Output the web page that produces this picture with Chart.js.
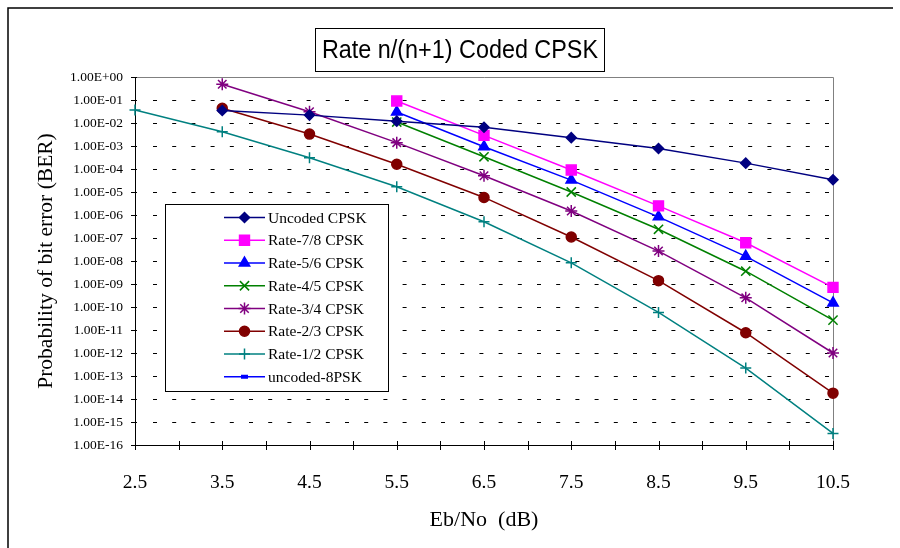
<!DOCTYPE html>
<html>
<head>
<meta charset="utf-8">
<script src="https://cdn.jsdelivr.net/npm/chart.js@4/dist/chart.umd.min.js"></script>
<style>
  html, body { margin: 0; padding: 0; background: #fff; }
  canvas { display: block; }
</style>
</head>
<body>
<canvas id="c" width="900" height="548"></canvas>
<script>
// ---- Data ----
const ebno = [2.5, 3.5, 4.5, 5.5, 6.5, 7.5, 8.5, 9.5, 10.5];
const uncodedCPSK = [null, 3.5e-2, 2.2e-2, 1.2e-2, 6.5e-3, 2.3e-3, 7.8e-4, 1.8e-4, 3.4e-5];
const rate78 = [null, null, null, 9.0e-2, 2.9e-3, 9.0e-5, 2.5e-6, 6.2e-8, 7.1e-10];
const rate56 = [null, null, null, 3.0e-2, 9.3e-4, 3.3e-5, 8.3e-7, 1.6e-8, 1.5e-10];
const rate45 = [null, null, null, 1.1e-2, 3.4e-4, 1.0e-5, 2.4e-7, 3.6e-9, 2.7e-11];
const rate34 = [null, 4.8e-1, 3.1e-2, 1.4e-3, 5.1e-5, 1.5e-6, 2.7e-8, 2.5e-10, 1.0e-12];
const rate23 = [null, 4.4e-2, 3.3e-3, 1.6e-4, 5.8e-6, 1.1e-7, 1.4e-9, 7.6e-12, 1.8e-14];
const rate12 = [3.7e-2, 4.2e-3, 3.1e-4, 1.7e-5, 5.1e-7, 8.3e-9, 5.8e-11, 2.2e-13, 3.2e-16];
const uncoded8PSK = [null, null, null, null, null, null, null, null, null];

const seriesLabels = ['Uncoded CPSK', 'Rate-7/8 CPSK', 'Rate-5/6 CPSK', 'Rate-4/5 CPSK',
                      'Rate-3/4 CPSK', 'Rate-2/3 CPSK', 'Rate-1/2 CPSK', 'uncoded-8PSK'];
const xTickLabels = [2.5, 3.5, 4.5, 5.5, 6.5, 7.5, 8.5, 9.5, 10.5];
const yExponents = [0, -1, -2, -3, -4, -5, -6, -7, -8, -9, -10, -11, -12, -13, -14, -15, -16];
const chartTitle = 'Rate n/(n+1) Coded CPSK';
const xTitle = 'Eb/No  (dB)';
const yTitle = 'Probability of bit error (BER)';

// ---- Styles ----
const styles = [
  { color: '#000080', pointStyle: 'rectRot', radius: 5 },
  { color: '#FF00FF', pointStyle: 'rect', radius: 7 },
  { color: '#0000FF', pointStyle: 'triangle', radius: 6 },
  { color: '#008000', pointStyle: 'crossRot', radius: 6.5 },
  { color: '#800080', pointStyle: 'star', radius: 6 },
  { color: '#800000', pointStyle: 'circle', radius: 5 },
  { color: '#008080', pointStyle: 'cross', radius: 5.5 },
  { color: '#0000FF', pointStyle: 'rect', radius: 3 }
];
const seriesValues = [uncodedCPSK, rate78, rate56, rate45, rate34, rate23, rate12, uncoded8PSK];

const toPoints = arr => ebno.map((x, i) => ({ x: x, y: arr[i] })).filter(p => p.y !== null);

const datasets = seriesValues.map((vals, i) => ({
  label: seriesLabels[i],
  data: toPoints(vals),
  borderColor: styles[i].color,
  backgroundColor: styles[i].color,
  pointBackgroundColor: styles[i].color,
  pointBorderColor: styles[i].color,
  pointStyle: styles[i].pointStyle,
  pointRadius: styles[i].radius,
  pointHoverRadius: styles[i].radius,
  pointBorderWidth: 1.5,
  borderWidth: 1.5,
  tension: 0,
  fill: false,
  clip: false
}));

function fmtExp(v) {
  const e = Math.round(Math.log10(v));
  const a = Math.abs(e);
  return '1.00E' + (e < 0 ? '-' : '+') + (a < 10 ? '0' + a : '' + a);
}

const decorPlugin = {
  id: 'decor',
  beforeDatasetsDraw(chart) {
    const ctx = chart.ctx;
    const ca = chart.chartArea;
    const xs = chart.scales.x, ys = chart.scales.y;
    ctx.save();
    // dashed horizontal grid lines
    ctx.strokeStyle = '#000';
    ctx.lineWidth = 1;
    ctx.setLineDash([4, 15.2]);
    ys.ticks.forEach(t => {
      const y = Math.round(ys.getPixelForValue(t.value)) + 0.5;
      if (Math.abs(y - ca.top) < 2 || Math.abs(y - ca.bottom) < 2) return;
      ctx.beginPath();
      ctx.moveTo(ca.left + 18, y);
      ctx.lineTo(ca.right, y);
      ctx.stroke();
    });
    ctx.setLineDash([]);
    // top & right border (gray)
    ctx.strokeStyle = '#808080';
    ctx.beginPath();
    ctx.moveTo(ca.left, Math.round(ca.top) + 0.5);
    ctx.lineTo(Math.round(ca.right) + 0.5, Math.round(ca.top) + 0.5);
    ctx.lineTo(Math.round(ca.right) + 0.5, ca.bottom);
    ctx.stroke();
    // axes
    ctx.strokeStyle = '#000';
    ctx.beginPath();
    ctx.moveTo(Math.round(ca.left) + 0.5, ca.top);
    ctx.lineTo(Math.round(ca.left) + 0.5, Math.round(ca.bottom) + 0.5);
    ctx.lineTo(ca.right, Math.round(ca.bottom) + 0.5);
    ctx.stroke();
    // y tick marks (crossing)
    ys.ticks.forEach(t => {
      const y = Math.round(ys.getPixelForValue(t.value)) + 0.5;
      ctx.beginPath();
      ctx.moveTo(ca.left - 4, y);
      ctx.lineTo(ca.left + 2, y);
      ctx.stroke();
    });
    // x tick marks every 0.5 (crossing)
    for (let v = xs.min; v <= xs.max + 1e-9; v += 0.5) {
      const x = Math.round(xs.getPixelForValue(v)) + 0.5;
      ctx.beginPath();
      ctx.moveTo(x, ca.bottom - 4);
      ctx.lineTo(x, ca.bottom + 5);
      ctx.stroke();
    }
    ctx.restore();
  },
  afterDraw(chart) {
    const ctx = chart.ctx;
    ctx.save();
    // outer frame (left & top)
    ctx.strokeStyle = '#000';
    ctx.lineWidth = 1.5;
    ctx.beginPath();
    ctx.moveTo(8, 548);
    ctx.lineTo(8, 8);
    ctx.lineTo(893, 8);
    ctx.stroke();

    // title box
    ctx.lineWidth = 1;
    ctx.fillStyle = '#fff';
    ctx.fillRect(315, 28, 289, 43);
    ctx.strokeStyle = '#000';
    ctx.strokeRect(315.5, 28.5, 289, 43);
    ctx.fillStyle = '#000';
    ctx.font = '25px "Liberation Sans", Arial, sans-serif';
    ctx.textAlign = 'center';
    ctx.textBaseline = 'middle';
    ctx.fillText(chartTitle, 460, 51, 276);

    // legend box
    const lx = 165, ly = 204, lw = 223, lh = 187;
    ctx.fillStyle = '#fff';
    ctx.fillRect(lx, ly, lw, lh);
    ctx.strokeStyle = '#000';
    ctx.strokeRect(lx + 0.5, ly + 0.5, lw, lh);
    ctx.font = '15.5px "Liberation Serif", "Times New Roman", serif';
    ctx.textAlign = 'left';
    ctx.textBaseline = 'middle';
    chart.data.datasets.forEach((ds, i) => {
      const y = 217.5 + i * 22.75;
      ctx.strokeStyle = ds.borderColor;
      ctx.lineWidth = 1.5;
      ctx.beginPath();
      ctx.moveTo(224, y);
      ctx.lineTo(265, y);
      ctx.stroke();
      ctx.fillStyle = ds.pointBackgroundColor;
      ctx.strokeStyle = ds.pointBorderColor;
      if (i === 7) {
        ctx.fillRect(241, y - 2, 7, 4);
      } else if (Chart.helpers && Chart.helpers.drawPoint) {
        Chart.helpers.drawPoint(ctx, {
          pointStyle: ds.pointStyle, radius: ds.pointRadius, borderWidth: 1.5, rotation: 0
        }, 244.5, y);
      }
      ctx.fillStyle = '#000';
      ctx.fillText(ds.label, 268, y + 1);
    });
    ctx.restore();
  }
};

Chart.defaults.font.family = '"Liberation Serif", "Times New Roman", serif';
Chart.defaults.color = '#000';

new Chart(document.getElementById('c'), {
  type: 'line',
  data: { datasets: datasets },
  plugins: [decorPlugin],
  options: {
    responsive: false,
    animation: false,
    events: [],
    layout: { padding: { left: 0, right: 67, top: 77, bottom: 0 } },
    plugins: { legend: { display: false }, title: { display: false }, tooltip: { enabled: false } },
    scales: {
      x: {
        type: 'linear',
        min: 2.5,
        max: 10.5,
        afterFit: s => { s.height = 103; },
        afterBuildTicks: s => { s.ticks = xTickLabels.map(v => ({ value: v })); },
        grid: { display: false, drawTicks: false },
        border: { display: false },
        ticks: { font: { size: 19.5 }, padding: 26, maxRotation: 0, autoSkip: false,
                 callback: v => String(v) },
        title: { display: true, text: xTitle, font: { size: 22 }, padding: { top: 0, bottom: 15 } }
      },
      y: {
        type: 'logarithmic',
        min: 1e-16,
        max: 1,
        afterFit: s => { s.width = 135; },
        afterBuildTicks: s => { s.ticks = yExponents.map(e => ({ value: Number('1e' + e) })); },
        grid: { display: false, drawTicks: false },
        border: { display: false },
        ticks: { font: { size: 13.5 }, padding: 12, autoSkip: false, callback: v => fmtExp(v) },
        title: { display: true, text: yTitle, font: { size: 21.5 }, padding: { top: 33, bottom: 0 } }
      }
    }
  }
});
</script>
</body>
</html>
